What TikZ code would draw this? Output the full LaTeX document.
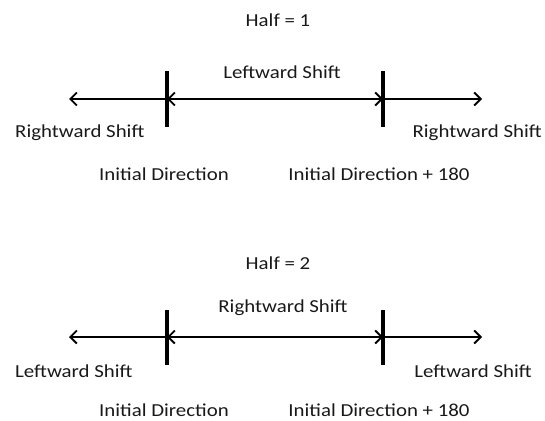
\documentclass[tikz,border=0pt]{standalone}
\usepackage{fontspec}
\setmainfont{Carlito}[FakeStretch=1.14]
\usetikzlibrary{arrows.meta}
\begin{document}
\begin{tikzpicture}[x=1pt,y=-1pt,
  lbl/.style={anchor=base,inner sep=0pt,font=\fontsize{18.3}{22}\selectfont,text=black!90},
  axis/.style={line width=1.9pt,-{Straight Barb[length=6.5pt,width=13pt,line width=1.9pt]}},
  both/.style={line width=1.9pt,{Straight Barb[length=6.5pt,width=13pt,line width=1.9pt]}-{Straight Barb[length=6.5pt,width=13pt,line width=1.9pt]}},
  mark line/.style={line width=3.4pt}]
\useasboundingbox (0,0) rectangle (545,420);

% ---- first half ----
\node[lbl] (h1) at (278,27) {Half = 1};
\node[lbl] (m1) at (282,78) {Leftward Shift};
\coordinate (a1l) at (69,99);
\coordinate (a1r) at (482,99);
\coordinate (t1a) at (167,99);
\coordinate (t1b) at (383,99);
\coordinate (t1at) at (167,71);
\coordinate (t1ab) at (167,127);
\coordinate (t1bt) at (383,71);
\coordinate (t1bb) at (383,127);
\draw[mark line] (t1at) -- (t1ab);
\draw[mark line] (t1bt) -- (t1bb);
\draw[axis] (t1a) -- (a1l);
\draw[axis] (t1b) -- (a1r);
\draw[both] (t1a) -- (t1b);
\node[lbl,anchor=base west] (l1) at (15,137) {Rightward Shift};
\node[lbl,anchor=base east] (r1) at (542,137) {Rightward Shift};
\node[lbl] (i1) at (164,180) {Initial Direction};
\node[lbl] (j1) at (379,180) {Initial Direction + 180};

% ---- second half ----
\node[lbl] (h2) at (278,269) {Half = 2};
\node[lbl] (m2) at (283,312) {Rightward Shift};
\coordinate (a2l) at (69,337);
\coordinate (a2r) at (482,337);
\coordinate (t2a) at (167,337);
\coordinate (t2b) at (383,337);
\coordinate (t2at) at (167,310);
\coordinate (t2ab) at (167,365);
\coordinate (t2bt) at (383,310);
\coordinate (t2bb) at (383,365);
\draw[mark line] (t2at) -- (t2ab);
\draw[mark line] (t2bt) -- (t2bb);
\draw[axis] (t2a) -- (a2l);
\draw[axis] (t2b) -- (a2r);
\draw[both] (t2a) -- (t2b);
\node[lbl,anchor=base west] (l2) at (15,377) {Leftward Shift};
\node[lbl,anchor=base east] (r2) at (532,377) {Leftward Shift};
\node[lbl] (i2) at (164,416) {Initial Direction};
\node[lbl] (j2) at (379,416) {Initial Direction + 180};
\end{tikzpicture}
\end{document}
